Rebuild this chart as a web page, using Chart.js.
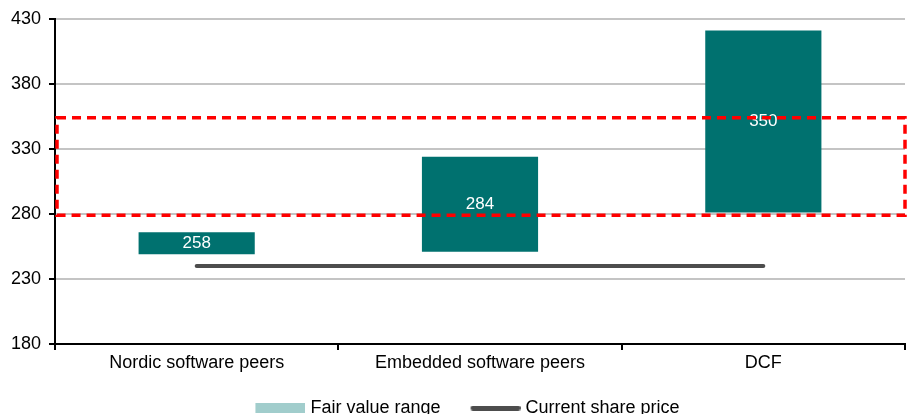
<!DOCTYPE html>
<html>
<head>
    <title>Fair value range</title>
    <script src="https://cdn.jsdelivr.net/npm/chart.js"></script>
    <style>
        body { margin: 0; background: white; }
        .chart-box { width: 919px; height: 414px; }
    </style>
</head>
<body>
    <div class="chart-box">
        <canvas id="range-chart"></canvas>
    </div>

    <script>
        const categories = ['Nordic software peers', 'Embedded software peers', 'DCF'];
        const rangeLow = [249, 251, 281];
        const rangeHigh = [266, 324, 421];
        const midValues = [258, 284, 350];
        const sharePrice = [240, 240, 240];
        const highlightRange = [279, 354];
        const yTicks = [180, 230, 280, 330, 380, 430];

        const barColor = '#00716f';
        const lineColor = '#4d4d4d';
        const fontFamily = '"Liberation Sans", Arial, sans-serif';

        // legend swatches drawn into small canvases (with a blank margin on the left)
        function swatch(w, h, color, round, margin) {
            const c = document.createElement('canvas');
            c.width = w + margin; c.height = h;
            const g = c.getContext('2d');
            g.fillStyle = color;
            if (round) {
                g.beginPath();
                g.arc(margin + h / 2, h / 2, h / 2, 0, Math.PI * 2);
                g.arc(margin + w - h / 2, h / 2, h / 2, 0, Math.PI * 2);
                g.fill();
                g.fillRect(margin + h / 2, 0, w - h, h);
            } else {
                g.fillRect(margin, 0, w, h);
            }
            return c;
        }
        const rangeSwatch = swatch(50, 10, '#a1cdcc', false, 8);
        const lineSwatch = swatch(50, 5, lineColor, true, 8);

        const labelPlugin = {
            id: 'labels',
            afterLayout(chart) {
                // nudge legend to the right like the original
                chart.legend.left += 13;
                chart.legend.right += 13;
            },
            afterDatasetsDraw(chart) {
                const ctx = chart.ctx;
                const meta = chart.getDatasetMeta(0);
                ctx.save();
                ctx.fillStyle = 'white';
                ctx.font = '17px ' + fontFamily;
                ctx.textAlign = 'center';
                ctx.textBaseline = 'middle';
                meta.data.forEach((bar, i) => {
                    const p = bar.getCenterPoint();
                    ctx.fillText(String(midValues[i]), p.x, p.y);
                });
                ctx.restore();

                // red dashed highlight box
                const y = chart.scales.y;
                const area = chart.chartArea;
                const top = y.getPixelForValue(highlightRange[1]);
                const bottom = y.getPixelForValue(highlightRange[0]);
                ctx.save();
                ctx.strokeStyle = '#ff0000';
                ctx.lineWidth = 3.5;
                ctx.setLineDash([9, 6]);
                ctx.strokeRect(area.left + 2, top, area.right - area.left - 2, bottom - top);
                ctx.restore();
            }
        };

        new Chart(document.getElementById('range-chart'), {
            data: {
                labels: categories,
                datasets: [{
                    type: 'bar',
                    label: 'Fair value range',
                    data: rangeLow.map((v, i) => [v, rangeHigh[i]]),
                    backgroundColor: barColor,
                    barPercentage: 0.41,
                    categoryPercentage: 1,
                    order: 2
                }, {
                    type: 'line',
                    label: 'Current share price',
                    data: sharePrice,
                    borderColor: lineColor,
                    borderWidth: 4,
                    borderCapStyle: 'round',
                    pointRadius: 0,
                    order: 1
                }]
            },
            options: {
                responsive: true,
                maintainAspectRatio: false,
                animation: false,
                layout: { padding: { top: 16, right: 14, left: 0, bottom: -13 } },
                plugins: {
                    tooltip: { enabled: false },
                    legend: {
                        position: 'bottom',
                        labels: {
                            usePointStyle: true,
                            pointStyleWidth: 50,
                            padding: 26,
                            color: '#000',
                            font: { family: fontFamily, size: 18 },
                            generateLabels: (chart) => chart.data.datasets.map((ds, i) => ({
                                text: ds.label,
                                pointStyle: i === 0 ? rangeSwatch : lineSwatch,
                                datasetIndex: i,
                                fontColor: '#000',
                                lineWidth: 0
                            }))
                        }
                    }
                },
                scales: {
                    x: {
                        afterFit: (scale) => { scale.height = 29; },
                        grid: { drawOnChartArea: false, tickLength: 6, tickColor: '#000', lineWidth: 2 },
                        border: { color: '#000', width: 2 },
                        ticks: {
                            color: '#000',
                            padding: 2,
                            font: { family: fontFamily, size: 18 }
                        }
                    },
                    y: {
                        min: 180,
                        max: 430,
                        afterBuildTicks: (scale) => { scale.ticks = yTicks.map(v => ({ value: v })); },
                        afterFit: (scale) => { scale.width = 55; },
                        grid: { color: '#c4c4c4', lineWidth: 2, tickLength: 6, tickColor: '#000' },
                        border: { color: '#000', width: 2 },
                        ticks: {
                            color: '#000',
                            padding: 8,
                            font: { family: fontFamily, size: 18 }
                        }
                    }
                }
            },
            plugins: [labelPlugin]
        });
    </script>
</body>
</html>
